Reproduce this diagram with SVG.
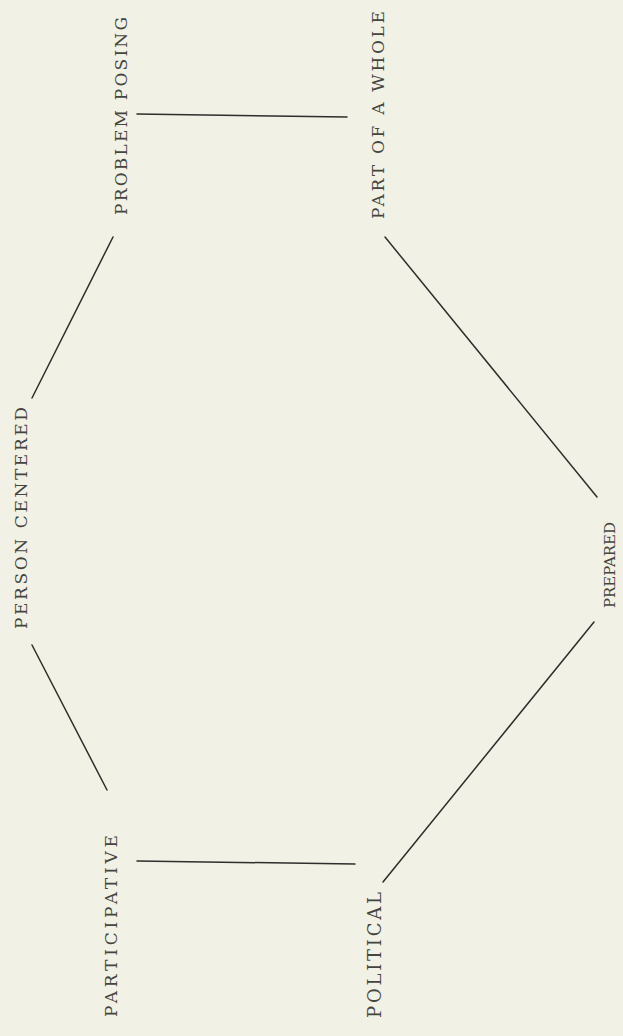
<svg xmlns="http://www.w3.org/2000/svg" width="623" height="1036" viewBox="0 0 623 1036">
<style>
.t{font-family:"DejaVu Serif","Liberation Serif",serif;font-size:17px;fill:#45453f;}
.c line{stroke:#2e2e2c;stroke-width:1.5;stroke-linecap:round;}
</style>
<rect width="623" height="1036" fill="#f1f1e5"/>
<g class="c" id="connectors">
<line x1="137" y1="114" x2="347" y2="117"/>
<line x1="113" y1="237" x2="32" y2="398"/>
<line x1="32" y1="645" x2="107" y2="790"/>
<line x1="137" y1="861" x2="355" y2="864"/>
<line x1="385" y1="237" x2="597" y2="497"/>
<line x1="594" y1="622" x2="383" y2="882"/>
</g>
<g id="problem-posing"><text class="t" transform="translate(127,215) rotate(-90)" textLength="198" lengthAdjust="spacing">PROBLEM POSING</text></g>
<g id="part-of-a-whole"><text class="t" transform="translate(384,219) rotate(-90)" textLength="208" lengthAdjust="spacing">PART OF A WHOLE</text></g>
<g id="person-centered"><text class="t" transform="translate(27,629) rotate(-90)" textLength="222" lengthAdjust="spacing">PERSON CENTERED</text></g>
<g id="prepared"><text class="t" transform="translate(615,608) rotate(-90)" style="font-size:15px" textLength="86" lengthAdjust="spacing">PREPARED</text></g>
<g id="participative"><text class="t" transform="translate(117,1017) rotate(-90)" textLength="182" lengthAdjust="spacing">PARTICIPATIVE</text></g>
<g id="political"><text class="t" transform="translate(381,1018) rotate(-90)" style="font-size:18px" textLength="126" lengthAdjust="spacing">POLITICAL</text></g>
</svg>
